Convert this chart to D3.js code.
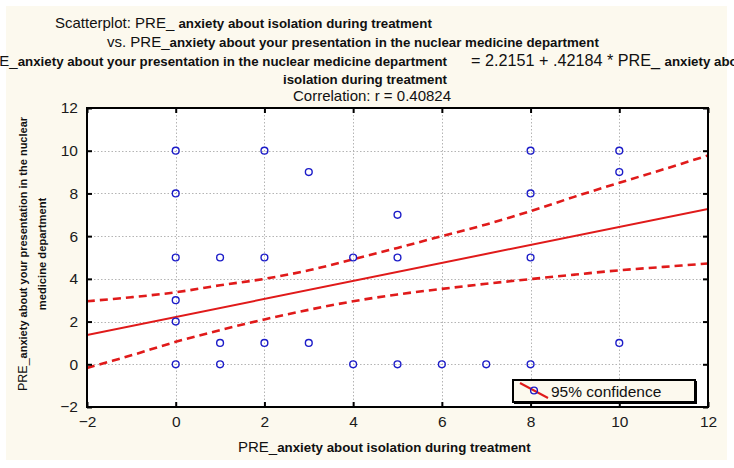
<!DOCTYPE html>
<html>
<head>
<meta charset="utf-8">
<script src="https://cdn.jsdelivr.net/npm/d3@7/dist/d3.min.js"></script>
<style>
  html, body { margin: 0; padding: 0; background: #ffffff; }
  svg { display: block; font-family: "Liberation Sans", Arial, sans-serif; }
</style>
</head>
<body>
<svg id="chart" width="734" height="468"></svg>
<script>
// ---- data ----
const xTicks = [-2, 0, 2, 4, 6, 8, 10, 12];
const yTicks = [-2, 0, 2, 4, 6, 8, 10, 12];
const pointX = [0, 0, 0, 0, 0, 0, 1, 1, 1, 2, 2, 2, 3, 3, 4, 4, 5, 5, 5, 6, 7, 8, 8, 8, 8, 10, 10, 10];
const pointY = [10, 8, 5, 3, 2, 0, 5, 1, 0, 10, 5, 1, 9, 1, 5, 0, 7, 5, 0, 0, 0, 10, 8, 5, 0, 10, 9, 1];
const intercept = 2.2151;
const slope = 0.42184;
const bandX = [-2, -1, 0, 1, 2, 3, 4, 5, 6, 7, 8, 9, 10, 11, 12];
const bandUpper = [2.95, 3.14, 3.37, 3.70, 4.00, 4.40, 4.92, 5.45, 6.00, 6.55, 7.17, 7.85, 8.50, 9.13, 9.78];
const bandLower = [-0.17, 0.42, 1.05, 1.60, 2.10, 2.55, 2.95, 3.27, 3.53, 3.77, 3.99, 4.20, 4.40, 4.56, 4.72];
const legendLabel = "95% confidence";

(function () {
const svg = d3.select("#chart");
const W = 734, H = 468;
const pL = 87, pR = 708, pT = 108, pB = 407;
const cream = "#fcf9ee";
const red = "#e01a1a";
const blue = "#1c1cc8";

svg.append("rect").attr("x", 0).attr("y", 0).attr("width", W).attr("height", H).attr("fill", "#ffffff");
svg.append("rect").attr("x", 6).attr("y", 6).attr("width", 721).attr("height", 454).attr("fill", cream);

const x = d3.scaleLinear().domain([-2, 12]).range([pL, pR]);
const y = d3.scaleLinear().domain([-2, 12]).range([pB, pT]);

// plot area
svg.append("rect").attr("x", pL).attr("y", pT).attr("width", pR - pL).attr("height", pB - pT).attr("fill", "#ffffff");

// grid
const grid = svg.append("g").attr("stroke", "#b4b4b4").attr("stroke-width", 1).attr("stroke-dasharray", "1.5,2");
grid.selectAll("line.gx").data(xTicks.filter(t => t > -2 && t < 12)).join("line")
  .attr("class", "gx")
  .attr("x1", d => Math.round(x(d)) + 0.5).attr("x2", d => Math.round(x(d)) + 0.5)
  .attr("y1", pT).attr("y2", pB);
grid.selectAll("line.gy").data(yTicks.filter(t => t > -2 && t < 12)).join("line")
  .attr("class", "gy")
  .attr("y1", d => Math.round(y(d)) + 0.5).attr("y2", d => Math.round(y(d)) + 0.5)
  .attr("x1", pL).attr("x2", pR);

// clip
svg.append("clipPath").attr("id", "clip").append("rect")
  .attr("x", pL).attr("y", pT).attr("width", pR - pL).attr("height", pB - pT);
const plot = svg.append("g").attr("clip-path", "url(#clip)");

// confidence bands
const line = d3.line().x(d => x(d[0])).y(d => y(d[1])).curve(d3.curveCatmullRom);
[bandUpper, bandLower].forEach(arr => {
  plot.append("path")
    .datum(bandX.map((v, i) => [v, arr[i]]))
    .attr("d", line)
    .attr("fill", "none").attr("stroke", red).attr("stroke-width", 2.6)
    .attr("stroke-dasharray", "8,5");
});

// regression line
const xd = x.domain();
plot.append("path")
  .datum(xd.map(v => [v, intercept + slope * v]))
  .attr("d", d3.line().x(d => x(d[0])).y(d => y(d[1])))
  .attr("fill", "none").attr("stroke", red).attr("stroke-width", 2);

// points
plot.selectAll("circle.pt").data(pointX.map((v, i) => [v, pointY[i]])).join("circle")
  .attr("class", "pt")
  .attr("cx", d => x(d[0])).attr("cy", d => y(d[1])).attr("r", 3.4)
  .attr("fill", "none").attr("stroke", blue).attr("stroke-width", 1.4);

// axes
function styleAxis(g, showText) {
  g.select(".domain").remove();
  g.selectAll(".tick line").attr("stroke", "#000").attr("stroke-width", 2);
  g.selectAll(".tick text").attr("fill", "#1a1a1a").style("font-size", "15.5px")
    .style("font-family", "'Liberation Sans', Arial, sans-serif")
    .style("display", showText ? null : "none");
}
svg.append("g").attr("transform", `translate(0,${pB})`)
  .call(d3.axisBottom(x).tickValues(xTicks).tickSizeInner(-5).tickSizeOuter(0).tickPadding(9).tickFormat(d3.format("d")))
  .call(g => styleAxis(g, true));
svg.append("g").attr("transform", `translate(${pL},0)`)
  .call(d3.axisLeft(y).tickValues(yTicks).tickSizeInner(-5).tickSizeOuter(0).tickPadding(9).tickFormat(d3.format("d")))
  .call(g => styleAxis(g, true));
svg.append("g").attr("transform", `translate(0,${pT})`)
  .call(d3.axisTop(x).tickValues(xTicks).tickSizeInner(-5).tickSizeOuter(0))
  .call(g => styleAxis(g, false));
svg.append("g").attr("transform", `translate(${pR},0)`)
  .call(d3.axisRight(y).tickValues(yTicks).tickSizeInner(-5).tickSizeOuter(0))
  .call(g => styleAxis(g, false));

// frame
svg.append("rect").attr("x", pL).attr("y", pT).attr("width", pR - pL).attr("height", pB - pT)
  .attr("fill", "none").attr("stroke", "#000").attr("stroke-width", 2);

// legend
const lg = svg.append("g");
lg.append("rect").attr("x", 514).attr("y", 381).attr("width", 183).attr("height", 23).attr("fill", "#000");
lg.append("rect").attr("x", 513).attr("y", 380).attr("width", 182).attr("height", 22)
  .attr("fill", cream).attr("stroke", "#000").attr("stroke-width", 2);
lg.append("line").attr("x1", 520).attr("y1", 383).attr("x2", 548).attr("y2", 398)
  .attr("stroke", red).attr("stroke-width", 2);
lg.append("circle").attr("cx", 534).attr("cy", 390.5).attr("r", 3.4)
  .attr("fill", "none").attr("stroke", blue).attr("stroke-width", 1.4);
lg.append("text").attr("x", 551).attr("y", 396.5).attr("fill", "#111").style("font-size", "15.5px").text(legendLabel);

// titles
function mixed(xp, yp, parts, anchor, rs) {
  const t = svg.append("text").attr("x", xp).attr("y", yp).attr("fill", "#111")
    .attr("text-anchor", anchor || "start");
  parts.forEach(p => {
    t.append("tspan").style("font-size", p[1] ? "13.3px" : (rs || "15px"))
      .style("font-weight", p[1] ? "bold" : "normal").text(p[0]);
  });
  return t;
}
mixed(55, 28, [["Scatterplot: PRE_ ", false], ["anxiety about isolation during treatment", true]]);
mixed(107, 47, [["vs. PRE_", false], ["anxiety about your presentation in the nuclear medicine department", true]]);
mixed(447, 66, [["PRE_", false], ["anxiety about your presentation in the nuclear medicine department", true]], "end");
mixed(471, 66, [["= 2.2151 + .42184 * PRE_ ", false], ["anxiety about isolation during treatment", true]], "start", "16.2px");
mixed(283, 84, [["isolation during treatment", true]]);
mixed(293, 101, [["Correlation: r = 0.40824", false]]);

// axis titles
mixed(238, 452, [["PRE_", false], ["anxiety about isolation during treatment", true]]);
const yl = svg.append("g").attr("transform", "translate(27,254) rotate(-90)");
const yt1 = yl.append("text").attr("x", 0).attr("y", 0).attr("text-anchor", "middle").attr("fill", "#111");
yt1.append("tspan").style("font-size", "12.5px").text("PRE_");
yt1.append("tspan").style("font-size", "11px").style("font-weight", "bold").text("anxiety about your presentation in the nuclear");
yl.append("text").attr("x", 0).attr("y", 19).attr("text-anchor", "middle").attr("fill", "#111")
  .style("font-size", "11.2px").style("font-weight", "bold").text("medicine department");
})();
</script>
</body>
</html>
